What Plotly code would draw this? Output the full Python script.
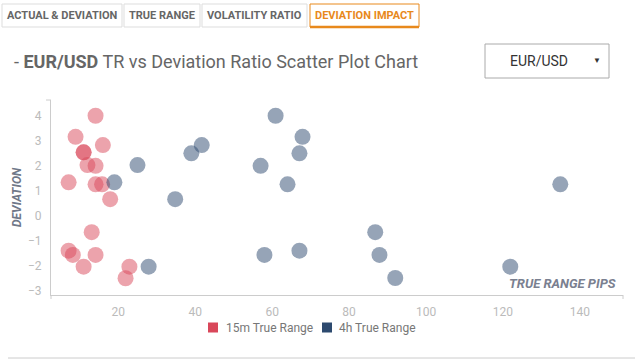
import plotly.graph_objects as go

# ---- data ----
series_names = ["15m True Range", "4h True Range"]
series_colors = ["#d9475a", "#2d4a6f"]

tr_15m = [14.1, 8.9, 16.0, 11.0, 11.0, 12.0, 14.1, 7.1, 14.1, 15.8, 17.9, 13.1, 7.1, 8.2, 14.1, 11.0, 22.9, 21.9]
dev_15m = [4.0, 3.16, 2.83, 2.54, 2.54, 2.03, 2.0, 1.34, 1.26, 1.26, 0.67, -0.65, -1.39, -1.56, -1.56, -2.03, -2.03, -2.49]

tr_4h = [19.0, 25.0, 34.8, 27.9, 39.0, 41.7, 60.9, 67.9, 67.1, 57.0, 64.0, 58.0, 67.1, 86.8, 87.9, 92.0, 134.9, 121.9]
dev_4h = [1.34, 2.03, 0.67, -2.03, 2.5, 2.83, 4.0, 3.16, 2.5, 2.0, 1.26, -1.56, -1.39, -0.65, -1.56, -2.48, 1.26, -2.03]

x_ticks = [20, 40, 60, 80, 100, 120, 140]
y_ticks = [-3, -2, -1, 0, 1, 2, 3, 4]

tabs = ["ACTUAL & DEVIATION", "TRUE RANGE", "VOLATILITY RATIO", "DEVIATION IMPACT"]

# ---- layout geometry (pixels) ----
W, H = 643, 362
L, R, T, B = 51, 623, 100, 295


def px(x):
    return (x - L) / (R - L)


def py(y):
    return (B - y) / (B - T)


FONT = "Roboto"
fig = go.Figure()

fig.add_trace(go.Scatter(
    x=tr_15m, y=dev_15m, mode="markers", name=series_names[0], showlegend=False,
    marker=dict(size=16, color=series_colors[0], opacity=0.5, line=dict(width=0)),
    hoverinfo="x+y"))
fig.add_trace(go.Scatter(
    x=tr_4h, y=dev_4h, mode="markers", name=series_names[1], showlegend=False,
    marker=dict(size=16, color=series_colors[1], opacity=0.5, line=dict(width=0)),
    hoverinfo="x+y"))

shapes = []
annotations = []

# tabs
tab_boxes = [(2, 122), (124, 200), (202, 307), (310, 419)]
for i, (name, (x0, x1)) in enumerate(zip(tabs, tab_boxes)):
    active = i == 3
    col = "#e8891c" if active else "#dddddd"
    shapes.append(dict(type="rect", xref="paper", yref="paper",
                       x0=px(x0), x1=px(x1), y0=py(4), y1=py(27),
                       line=dict(color=col, width=1), fillcolor="white", layer="below"))
    if active:
        shapes.append(dict(type="line", xref="paper", yref="paper",
                           x0=px(x0), x1=px(x1), y0=py(27), y1=py(27),
                           line=dict(color=col, width=2.5)))
    annotations.append(dict(text="<b>%s</b>" % name, xref="paper", yref="paper",
                            x=px((x0 + x1) / 2), y=py(15.5), showarrow=False,
                            xanchor="center", yanchor="middle",
                            font=dict(family=FONT, size=11, color="#e8891c" if active else "#666666")))

# title
annotations.append(dict(text="- <b>EUR/USD</b> TR vs Deviation Ratio Scatter Plot Chart",
                        xref="paper", yref="paper", x=px(12), y=py(61), showarrow=False,
                        xanchor="left", yanchor="middle",
                        font=dict(family=FONT, size=18, color="#666666")))

# dropdown
shapes.append(dict(type="rect", xref="paper", yref="paper",
                   x0=px(485), x1=px(609), y0=py(44), y1=py(78),
                   line=dict(color="#aaaaaa", width=1), fillcolor="white"))
annotations.append(dict(text="EUR/USD", xref="paper", yref="paper", x=px(539), y=py(61),
                        showarrow=False, xanchor="center", yanchor="middle",
                        font=dict(family=FONT, size=14, color="#333333")))
annotations.append(dict(text="▼", xref="paper", yref="paper", x=px(597), y=py(60),
                        showarrow=False, xanchor="center", yanchor="middle",
                        font=dict(family=FONT, size=8, color="#333333")))

# axis outer ticks
shapes.append(dict(type="line", xref="paper", yref="paper", x0=px(46), x1=px(51), y0=py(100), y1=py(100),
                   line=dict(color="#cccccc", width=1)))
shapes.append(dict(type="line", xref="paper", yref="paper", x0=px(51), x1=px(51), y0=py(295), y1=py(299),
                   line=dict(color="#cccccc", width=1)))
shapes.append(dict(type="line", xref="paper", yref="paper", x0=px(623), x1=px(623), y0=py(295), y1=py(299),
                   line=dict(color="#cccccc", width=1)))

# axis titles
annotations.append(dict(text="<b><i>DEVIATION</i></b>", xref="paper", yref="paper", x=px(17), y=py(197),
                        showarrow=False, textangle=-90, xanchor="center", yanchor="middle",
                        font=dict(family=FONT, size=12, color="#707888")))
annotations.append(dict(text="<b><i>TRUE RANGE PIPS</i></b>", xref="paper", yref="paper", x=px(618), y=py(283),
                        showarrow=False, xanchor="right", yanchor="middle",
                        font=dict(family=FONT, size=13, color="#7a8090")))

# legend (manual)
leg_items = [(208, 224), (322, 337)]
for name, col, (sx, tx) in zip(series_names, series_colors, leg_items):
    shapes.append(dict(type="rect", xref="paper", yref="paper", x0=px(sx), x1=px(sx + 10),
                       y0=py(322.5), y1=py(332.5), line=dict(width=0), fillcolor=col))
    annotations.append(dict(text=name, xref="paper", yref="paper", x=px(tx), y=py(328),
                            showarrow=False, xanchor="left", yanchor="middle",
                            font=dict(family=FONT, size=12, color="#777777")))

# bottom separator
shapes.append(dict(type="line", xref="paper", yref="paper", x0=px(8), x1=px(635), y0=py(358), y1=py(358),
                   line=dict(color="#cccccc", width=1)))

fig.update_layout(
    width=W, height=H,
    margin=dict(l=L, r=W - R, t=T, b=H - B, pad=0),
    paper_bgcolor="white", plot_bgcolor="white",
    showlegend=False,
    shapes=shapes, annotations=annotations,
    font=dict(family=FONT),
    xaxis=dict(range=[2.52, 151.2], tickvals=x_ticks, showgrid=False, zeroline=False,
               showline=True, linecolor="#cccccc", linewidth=1, ticks="outside", ticklen=6,
               tickcolor="rgba(0,0,0,0)", tickfont=dict(family=FONT, size=12, color="#bbbbbb"),
               fixedrange=True),
    yaxis=dict(range=[-3.16, 4.63], tickvals=y_ticks, showgrid=False, zeroline=False,
               showline=True, linecolor="#cccccc", linewidth=1, ticks="outside", ticklen=6,
               tickcolor="rgba(0,0,0,0)", tickfont=dict(family=FONT, size=12, color="#bbbbbb"),
               fixedrange=True),
)

fig.write_html("out.html", config=dict(displayModeBar=False),
               post_script="document.body.style.margin='0';document.body.style.overflow='hidden';")
